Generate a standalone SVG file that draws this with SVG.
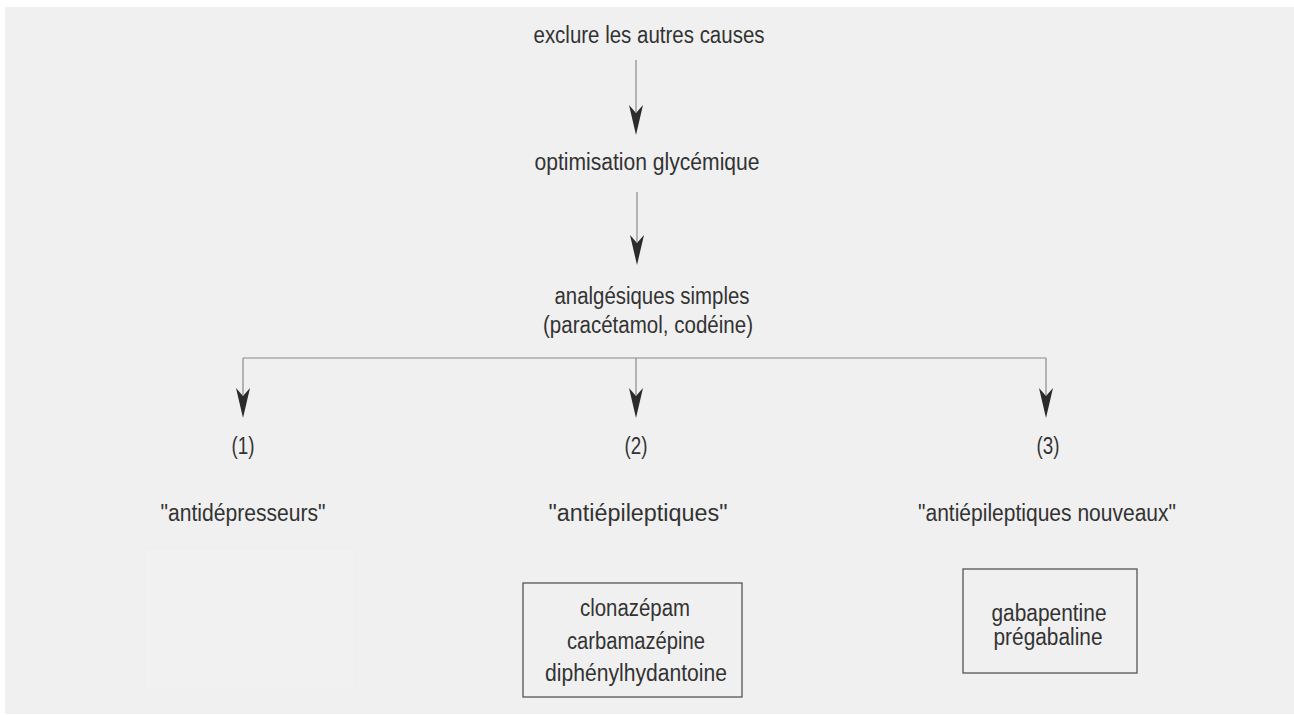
<svg xmlns="http://www.w3.org/2000/svg" xmlns:xlink="http://www.w3.org/1999/xlink" width="1294" height="715" viewBox="0 0 1294 715">
<style>
.t{font-family:"Liberation Sans",Arial,sans-serif;font-size:23px;fill:#333;text-anchor:middle}
.ln{stroke:#8a8a8a;stroke-width:1.2;fill:none}
.box{fill:none;stroke:#555;stroke-width:1.3}
.hd{fill:#2b2b2b}
</style>
<defs>
<path id="ah" d="M0,0 L-7,-30 L0,-22 L7,-30 Z"/>
</defs>
<rect x="0" y="0" width="1294" height="715" fill="#fff"/>
<rect x="5" y="7" width="1289" height="707" fill="#f0f0f0"/>
<rect x="145" y="548" width="210" height="142" fill="#f1f1f1" stroke="#eeeeee" stroke-width="1"/>
<g id="connectors">
<line class="ln" x1="636" y1="60" x2="636" y2="112"/>
<use xlink:href="#ah" class="hd" x="636" y="135"/>
<line class="ln" x1="637" y1="192" x2="637" y2="242"/>
<use xlink:href="#ah" class="hd" x="637" y="265"/>
<line class="ln" x1="243" y1="358" x2="1046" y2="358"/>
<line class="ln" x1="243" y1="358" x2="243" y2="395"/>
<line class="ln" x1="636" y1="358" x2="636" y2="395"/>
<line class="ln" x1="1046" y1="358" x2="1046" y2="395"/>
<use xlink:href="#ah" class="hd" x="243" y="418"/>
<use xlink:href="#ah" class="hd" x="636" y="418"/>
<use xlink:href="#ah" class="hd" x="1046" y="418"/>
</g>
<g id="n-exclure"><text class="t" x="649" y="43" textLength="231" lengthAdjust="spacingAndGlyphs">exclure les autres causes</text></g>
<g id="n-optimisation"><text class="t" x="647" y="170" textLength="225" lengthAdjust="spacingAndGlyphs">optimisation glycémique</text></g>
<g id="n-analgesiques">
<text class="t" x="652" y="304" textLength="195" lengthAdjust="spacingAndGlyphs">analgésiques simples</text>
<text class="t" x="648" y="333" textLength="210" lengthAdjust="spacingAndGlyphs">(paracétamol, codéine)</text>
</g>
<g id="n-1">
<text class="t" x="243" y="454" textLength="23" lengthAdjust="spacingAndGlyphs">(1)</text>
<text class="t" x="243" y="521" textLength="165" lengthAdjust="spacingAndGlyphs">"antidépresseurs"</text>
</g>
<g id="n-2">
<text class="t" x="636" y="454" textLength="23" lengthAdjust="spacingAndGlyphs">(2)</text>
<text class="t" x="638" y="521" textLength="179" lengthAdjust="spacingAndGlyphs">"antiépileptiques"</text>
</g>
<g id="n-3">
<text class="t" x="1048" y="454" textLength="23" lengthAdjust="spacingAndGlyphs">(3)</text>
<text class="t" x="1047" y="521" textLength="258" lengthAdjust="spacingAndGlyphs">"antiépileptiques nouveaux"</text>
</g>
<g id="n-box2">
<rect class="box" x="523" y="583" width="219" height="114"/>
<text class="t" x="635" y="616" textLength="110" lengthAdjust="spacingAndGlyphs">clonazépam</text>
<text class="t" x="636" y="649" textLength="138" lengthAdjust="spacingAndGlyphs">carbamazépine</text>
<text class="t" x="636" y="681" textLength="182" lengthAdjust="spacingAndGlyphs">diphénylhydantoine</text>
</g>
<g id="n-box3">
<rect class="box" x="963" y="569" width="174" height="104"/>
<text class="t" x="1049" y="621" textLength="115" lengthAdjust="spacingAndGlyphs">gabapentine</text>
<text class="t" x="1048" y="645" textLength="109" lengthAdjust="spacingAndGlyphs">prégabaline</text>
</g>
</svg>
